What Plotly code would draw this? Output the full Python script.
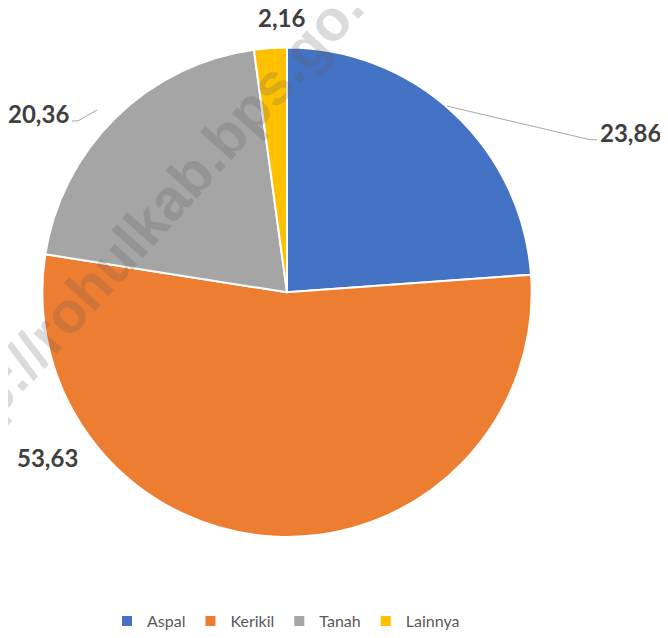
import plotly.graph_objects as go

categories = ["Aspal", "Kerikil", "Tanah", "Lainnya"]
values = [23.86, 53.63, 20.36, 2.16]
colors = ["#4472C4", "#ED7D31", "#A5A5A5", "#FFC000"]

# page has an 8px body margin; work in reference pixel coords and shift
OFF = 8
W, H = 668 - OFF, 638 - OFF


def px2paper(x, y):
    return (x - OFF) / W, 1 - (y - OFF) / H


cx, cy, r = 287, 295, 247

x0, _ = px2paper(cx - r, 0)
x1, _ = px2paper(cx + r, 0)
_, y0 = px2paper(0, cy + r)
_, y1 = px2paper(0, cy - r)

fig = go.Figure(go.Pie(
    labels=categories,
    values=values,
    sort=False,
    direction="clockwise",
    rotation=0,
    marker=dict(colors=colors, line=dict(color="white", width=2)),
    textinfo="none",
    hoverinfo="label+value",
    domain=dict(x=[x0, x1], y=[y0, y1]),
))


def fmt(v):
    return f"{v:.2f}".replace(".", ",")


# label positions in reference pixels (x, y) per category
label_pos = {"Aspal": (630, 134), "Kerikil": (47, 462), "Tanah": (39, 115), "Lainnya": (281, 18)}
for cat, v in zip(categories, values):
    ax, ay = px2paper(*label_pos[cat])
    fig.add_annotation(x=ax, y=ay, xref="paper", yref="paper",
                       text=fmt(v), showarrow=False,
                       font=dict(family="Lato", size=24, color="#404040", weight="bold"),
                       xanchor="center", yanchor="middle")


def pline(pts):
    path = "M " + " L ".join("{},{}".format(*px2paper(x, y)) for x, y in pts)
    fig.add_shape(type="path", path=path, xref="paper", yref="paper",
                  line=dict(color="#A6A6A6", width=1))


pline([(447, 107), (590, 141), (597, 141)])
pline([(97, 111), (78, 122), (72, 122)])

# watermark
wx, wy = px2paper(158, 212)
fig.add_annotation(x=wx, y=wy, xref="paper", yref="paper",
                   text="http://rohulkab.bps.go.id", showarrow=False, textangle=-48,
                   font=dict(family="Liberation Sans", size=58, color="rgba(90,90,90,0.22)", weight="bold"),
                   xanchor="center", yanchor="middle")

lx, ly = px2paper(286, 627)
fig.update_layout(
    width=W, height=H,
    margin=dict(l=0, r=0, t=0, b=0),
    paper_bgcolor="white", plot_bgcolor="white",
    showlegend=True,
    legend=dict(orientation="h", x=lx, xanchor="center", y=ly, yanchor="middle",
                font=dict(family="Lato", size=16, color="#595959"), itemwidth=30,
                traceorder="normal"),
)

fig.write_html("out.html")
